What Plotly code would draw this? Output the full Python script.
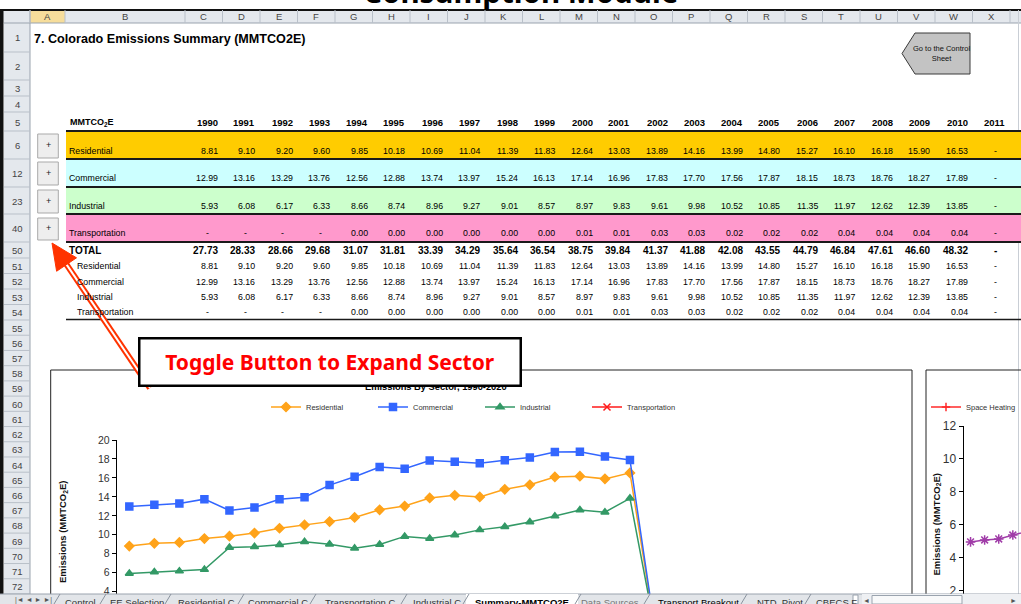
import plotly.graph_objects as go

W, H = 1021, 604
def X(p): return p / W
def Y(p): return 1 - p / H

# ---------------- data ----------------
table_years = [str(y) for y in range(1990, 2012)]
residential = [8.81, 9.10, 9.20, 9.60, 9.85, 10.18, 10.69, 11.04, 11.39, 11.83, 12.64,
               13.03, 13.89, 14.16, 13.99, 14.80, 15.27, 16.10, 16.18, 15.90, 16.53, None]
commercial = [12.99, 13.16, 13.29, 13.76, 12.56, 12.88, 13.74, 13.97, 15.24, 16.13, 17.14,
              16.96, 17.83, 17.70, 17.56, 17.87, 18.15, 18.73, 18.76, 18.27, 17.89, None]
industrial = [5.93, 6.08, 6.17, 6.33, 8.66, 8.74, 8.96, 9.27, 9.01, 8.57, 8.97,
              9.83, 9.61, 9.98, 10.52, 10.85, 11.35, 11.97, 12.62, 12.39, 13.85, None]
transportation = [None, None, None, None, 0.00, 0.00, 0.00, 0.00, 0.00, 0.00, 0.01,
                  0.01, 0.03, 0.03, 0.02, 0.02, 0.02, 0.04, 0.04, 0.04, 0.04, None]
totals = [27.73, 28.33, 28.66, 29.68, 31.07, 31.81, 33.39, 34.29, 35.64, 36.54, 38.75,
          39.84, 41.37, 41.88, 42.08, 43.55, 44.79, 46.84, 47.61, 46.60, 48.32, None]
sector_names = ["Residential", "Commercial", "Industrial", "Transportation"]
chart_years = [str(y) for y in range(1990, 2021)]
enduse_years = ["1990", "1991", "1992", "1993", "1994"]
enduse_values = [4.96, 5.08, 5.14, 5.38, 5.60]
column_letters = [chr(c) for c in range(ord("A"), ord("X") + 1)]
tab_names = ["Control", "EE Selection", "Residential C", "Commercial C", "Transportation C",
             "Industrial C", "Summary-MMTCO2E", "Data Sources", "Transport Breakout",
             "NTD_Pivot", "CBECS F"]

def fmt(v):
    return "-" if v is None else f"{v:.2f}"

def chart_series(vals):
    out = [(0 if v is None else v) for v in vals]
    return out + [None] * (len(chart_years) - len(out))

SANS = "Liberation Sans, Arial, sans-serif"
NARROW = SANS

fig = go.Figure()
shapes, ann = [], []

def rect(x0, y0, x1, y1, fill=None, line=None, lw=1, layer="below"):
    shapes.append(dict(type="rect", xref="paper", yref="paper", x0=X(x0), x1=X(x1),
                       y0=Y(y0), y1=Y(y1), fillcolor=fill or "rgba(0,0,0,0)",
                       line=dict(color=line or "rgba(0,0,0,0)", width=lw if line else 0),
                       layer=layer))

def hline(x0, x1, y, color, w=1, layer="below"):
    shapes.append(dict(type="line", xref="paper", yref="paper", x0=X(x0), x1=X(x1),
                       y0=Y(y), y1=Y(y), line=dict(color=color, width=w), layer=layer))

def vline(x, y0, y1, color, w=1, layer="below"):
    shapes.append(dict(type="line", xref="paper", yref="paper", x0=X(x), x1=X(x),
                       y0=Y(y0), y1=Y(y1), line=dict(color=color, width=w), layer=layer))

def text(x, y, t, size=10, color="#111", family=NARROW, xa="center", ya="middle", bold=False, **kw):
    if bold:
        t = f"<b>{t}</b>"
    ann.append(dict(xref="paper", yref="paper", x=X(x), y=Y(y), text=t, showarrow=False,
                    xanchor=xa, yanchor=ya, font=dict(size=size, color=color, family=family), **kw))

# ---------------- top module title (cut) ----------------
text(520, -8, "Consumption Module", size=29.5, color="#000", family="Noto Sans, DejaVu Sans, sans-serif", bold=True)

# ---------------- spreadsheet frame ----------------
HDR = "#E4E8ED"
SEP = "#B9C0C9"
rect(0, 10, 1021, 23, fill=HDR)
rect(30, 10, 65, 23, fill="#F6DD9B")
rect(4, 23, 30, 594, fill=HDR)
hline(0, 1021, 10, "#111", 2)
hline(4, 1021, 23, "#9AA3AE", 1)
vline(30, 10, 594, "#9AA3AE", 1)
rect(0, 10, 3.5, 604, fill="#111")
vline(1018.5, 10, 594, "#C9CED5", 1)

col_edges = [30, 65, 185] + [185 + 37.5 * (i + 1) for i in range(22)]
for xe in col_edges:
    vline(xe, 10, 23, SEP)
for i, letter in enumerate(column_letters):
    cx = (col_edges[i] + col_edges[i + 1]) / 2
    text(cx, 17, letter, size=9.5, color="#444", family=SANS)

row_labels = ["1", "2", "3", "4", "5", "6", "12", "23", "40", "50", "51", "52", "53", "54"] + \
             [str(r) for r in range(55, 73)]
row_bounds = [23, 52, 80, 96, 112, 131, 159, 187, 214, 242, 258, 273.5, 289, 304.5, 320] + \
             [320 + 15.22 * (k + 1) for k in range(18)]
for k, lab in enumerate(row_labels):
    y0, y1 = row_bounds[k], row_bounds[k + 1]
    hline(4, 30, y1, SEP)
    text(17, (y0 + y1) / 2 + 0.5, lab, size=9.5, color="#444")

# ---------------- title / headers ----------------
text(32, 39, "7. Colorado Emissions Summary (MMTCO2E)", size=12.6, color="#000", xa="left", bold=True)
text(68, 123, "MMTCO<sub>2</sub>E", size=9, color="#000", xa="left", bold=True)

right_edges = [219.5 + 37.5 * i for i in range(22)]
for i, yr in enumerate(table_years):
    text(right_edges[i], 123, yr, size=9.5, color="#000", xa="right", bold=True)

# ---------------- sector bands ----------------
band_colors = ["#FFCC00", "#CCFFFF", "#CCFFCC", "#FF99CC"]
band_tops = [131, 159, 187, 214]
band_text_y = [151, 178, 206, 233]
band_values = [residential, commercial, industrial, transportation]
for b in range(4):
    rect(66, band_tops[b], 1021, band_tops[b] + 28, fill=band_colors[b])
for yb in [131, 159, 187, 214, 242]:
    hline(66, 1021, yb, "#1A1A1A", 2.2)
hline(66, 1021, 319.5, "#1A1A1A", 1.5)

NUM = 8.8
def place_value(i, v, y, size, bold=False):
    if v is None:
        text(right_edges[i] - 8.5, y, "-", size=size, color="#000", xa="right", bold=bold)
    else:
        text(right_edges[i], y, fmt(v), size=size, color="#000", xa="right", bold=bold)

for b in range(4):
    text(67, band_text_y[b], sector_names[b], size=8.8, color="#000", xa="left")
    for i, v in enumerate(band_values[b]):
        place_value(i, v, band_text_y[b], NUM)

# plus buttons
btn_y = [(134, 158), (162, 185), (190, 213), (218, 240)]
for y0, y1 in btn_y:
    rect(37.7, y0, 58.3, y1, fill="#EEEEEE", line="#A9A9A9", lw=1)
    text(48, (y0 + y1) / 2 - 1, "+", size=9, color="#222", family=SANS)

# totals
text(67, 250, "TOTAL", size=10, color="#000", xa="left", bold=True)
for i, v in enumerate(totals):
    place_value(i, v, 250, 10, bold=True)
sub_y = [266, 281.5, 297, 312.5]
for b in range(4):
    text(75, sub_y[b], sector_names[b], size=8.8, color="#000", xa="left")
    for i, v in enumerate(band_values[b]):
        place_value(i, v, sub_y[b], NUM)

# go-to button
shapes.append(dict(type="path", xref="paper", yref="paper",
                   path=f"M {X(915)},{Y(33)} L {X(970)},{Y(33)} L {X(970)},{Y(74)} L {X(915)},{Y(74)} L {X(902)},{Y(53.5)} Z",
                   fillcolor="#C3C3C3", line=dict(color="#3A3A3A", width=1), layer="below"))
text(941, 53.5, "Go to the Control<br>Sheet", size=7.5, color="#111", family=SANS)

# ---------------- charts ----------------
rect(50.7, 370, 912, 640, line="#222", lw=1)
rect(926, 370, 1060, 640, line="#222", lw=1)

styles = [dict(color="#FFA31A", symbol="diamond"),
          dict(color="#3366FF", symbol="square"),
          dict(color="#339966", symbol="triangle-up"),
          dict(color="#FF1A1A", symbol="x-thin-open")]
for b in range(4):
    st = styles[b]
    fig.add_trace(go.Scatter(
        x=chart_years, y=chart_series(band_values[b]), name=sector_names[b],
        mode="lines+markers", xaxis="x", yaxis="y", legend="legend",
        line=dict(color=st["color"], width=1.5),
        marker=dict(symbol=st["symbol"], size=7, color=st["color"],
                    line=dict(color=st["color"], width=1.5)),
        cliponaxis=True))

fig.add_trace(go.Scatter(x=[None], y=[None], name="Space Heating", mode="lines+markers",
                         xaxis="x2", yaxis="y2", legend="legend2",
                         line=dict(color="#FF2A2A", width=1.5),
                         marker=dict(symbol="cross-thin-open", size=6, color="#FF2A2A",
                                     line=dict(color="#FF2A2A", width=1.5))))
fig.add_trace(go.Scatter(x=enduse_years, y=enduse_values, name="End use", mode="lines+markers",
                         xaxis="x2", yaxis="y2", showlegend=False,
                         line=dict(color="#A03CA8", width=1.5),
                         marker=dict(symbol="asterisk-open", size=8, color="#A03CA8",
                                     line=dict(color="#A03CA8", width=1.5))))

# chart title (partly covered by callout)
text(436, 387, "Emissions By Sector, 1990-2020", size=9.3, color="#000", bold=True)
text(63, 532, "Emissions (MMTCO<sub>2</sub>E)", size=9.5, color="#111", family=SANS, bold=True, textangle=-90)
text(936.5, 525, "Emissions (MMTCO<sub>2</sub>E)", size=9.5, color="#111", family=SANS, bold=True, textangle=-90)

# arrow
tip = (52, 243); tail = (150, 388)
dx, dy = tail[0] - tip[0], tail[1] - tip[1]
L = (dx * dx + dy * dy) ** 0.5
ux, uy = dx / L, dy / L
base = (tip[0] + 26 * ux, tip[1] + 26 * uy)
px_, py_ = uy, -ux
w1 = (base[0] + 12 * px_, base[1] + 12 * py_)
w2 = (base[0] - 12 * px_, base[1] - 12 * py_)
for col, wdt in [("#FF3300", 6), ("#FFFFFF", 2)]:
    shapes.append(dict(type="line", xref="paper", yref="paper", x0=X(base[0] - 2 * ux), y0=Y(base[1] - 2 * uy),
                       x1=X(tail[0]), y1=Y(tail[1]), line=dict(color=col, width=wdt), layer="above"))
shapes.append(dict(type="path", xref="paper", yref="paper",
                   path=f"M {X(tip[0])},{Y(tip[1])} L {X(w1[0])},{Y(w1[1])} L {X(w2[0])},{Y(w2[1])} Z",
                   fillcolor="#FF3300", line=dict(color="#FF3300", width=1), layer="above"))

# callout box (annotation on top of title)
ann.append(dict(xref="paper", yref="paper", x=X(138), y=Y(337), xanchor="left", yanchor="top",
                text="<b>Toggle Button to Expand Sector</b>", showarrow=False,
                width=379, height=45, bgcolor="#FFFFFF", bordercolor="#000", borderwidth=2.5,
                borderpad=0, align="center", valign="middle",
                font=dict(size=21, color="#FF0000", family="Noto Sans, DejaVu Sans, sans-serif")))

# ---------------- sheet tab bar ----------------
rect(0, 594, 1021, 604, fill="#E2E5E9", layer="above")
hline(0, 1021, 594, "#9AA3AE", 1, layer="above")
rect(466, 594, 578, 604, fill="#FFFFFF", layer="above")
for xs in [57, 103, 168, 241, 313, 404, 466, 578, 647, 744, 808]:
    shapes.append(dict(type="line", xref="paper", yref="paper", x0=X(xs - 3), x1=X(xs + 3),
                       y0=Y(604), y1=Y(594), line=dict(color="#8A939E", width=1), layer="above"))
tab_centers = [80, 137, 206, 278, 360, 437, 522, 610, 698, 780, 836]
for i, name in enumerate(tab_names):
    bold = name.startswith("Summary")
    color = "#000" if bold or name == "Transport Breakout" else ("#777" if name == "Data Sources" else "#333")
    text(tab_centers[i], 594.5, name, size=9.5, color=color, family=SANS, ya="top", bold=bold)
text(33, 600, "|◄ ◄ ► ►|", size=7, color="#555", family=SANS)
rect(862, 594, 1021, 604, fill="#EEF0F3", layer="above")
rect(872, 595.5, 962, 604, fill="#F8F9FA", line="#9AA3AE", lw=1, layer="above")
text(866, 600, "◄", size=7, color="#555", family=SANS)
text(1013, 600, "►", size=7, color="#555", family=SANS)
rect(853, 595, 858, 604, fill="#FFFFFF", line="#9AA3AE", lw=1, layer="above")

# ---------------- layout ----------------
axis_common = dict(showgrid=False, zeroline=False, fixedrange=True, automargin=False)
fig.update_layout(
    width=W, height=H, autosize=False, margin=dict(l=0, r=0, t=0, b=0, autoexpand=False),
    paper_bgcolor="#FFFFFF", plot_bgcolor="rgba(0,0,0,0)",
    shapes=shapes, annotations=ann,
    xaxis=dict(domain=[X(116.8), X(892.8)], type="category", categoryorder="array",
               categoryarray=chart_years, range=[-0.5, 30.5], showline=False,
               showticklabels=False, ticks="", anchor="y", **axis_common),
    yaxis=dict(domain=[0, Y(440)], range=[2.70, 20], dtick=2, tick0=0, showline=True,
               linecolor="#000", linewidth=1, ticks="outside", ticklen=4, tickcolor="#000",
               tickfont=dict(size=10.5, color="#333", family=SANS), anchor="x", **axis_common),
    xaxis2=dict(domain=[X(963.5), 1], type="category", categoryorder="array",
                categoryarray=chart_years, range=[-0.5, 3.58], showline=False,
                showticklabels=False, ticks="", anchor="y2", **axis_common),
    yaxis2=dict(domain=[0, Y(426)], range=[1.19, 12], dtick=2, tick0=0, showline=True,
                linecolor="#000", linewidth=1, ticks="outside", ticklen=4, tickcolor="#000",
                tickfont=dict(size=12, color="#333", family=SANS), anchor="x2", **axis_common),
    legend=dict(orientation="h", x=X(266), y=Y(407), xanchor="left", yanchor="middle",
                bgcolor="rgba(0,0,0,0)", font=dict(size=7.5, color="#333", family=NARROW),
                entrywidth=62, entrywidthmode="pixels", itemwidth=30, traceorder="normal"),
    legend2=dict(orientation="h", x=1, y=Y(407), xanchor="right", yanchor="middle",
                 bgcolor="rgba(0,0,0,0)", font=dict(size=7.5, color="#333", family=NARROW),
                 itemwidth=30),
    showlegend=True,
)

post = ("document.body.style.margin='0';document.body.style.padding='0';"
        "document.body.style.overflow='hidden';document.documentElement.style.overflow='hidden';")
fig.write_html("out.html", config={"displayModeBar": False, "responsive": False},
               default_width="1021px", default_height="604px", post_script=post)
